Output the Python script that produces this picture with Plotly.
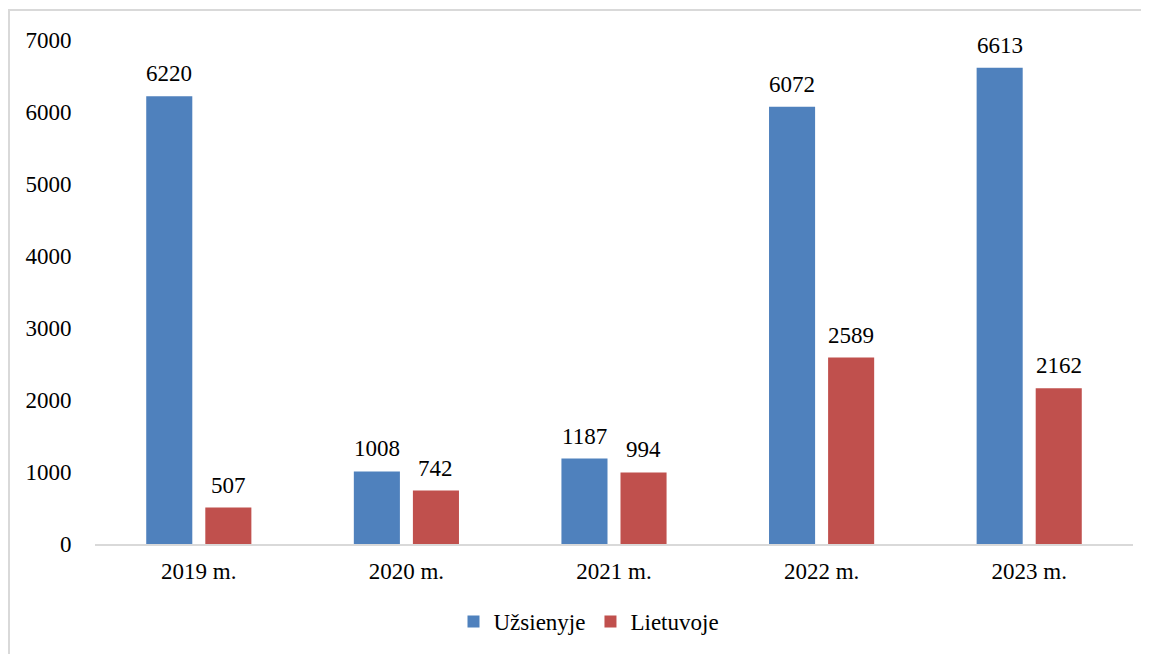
import plotly.graph_objects as go

categories = ["2019 m.", "2020 m.", "2021 m.", "2022 m.", "2023 m."]
uzsienyje = [6220, 1008, 1187, 6072, 6613]
lietuvoje = [507, 742, 994, 2589, 2162]
series_names = ["Užsienyje", "Lietuvoje"]
colors = ["#4F81BD", "#C0504D"]
y_ticks = [0, 1000, 2000, 3000, 4000, 5000, 6000, 7000]

FONT = "Liberation Serif, Times New Roman, serif"

W, H = 1149, 654
OFF = 8  # page body margin
L, R, T, B = 95 - OFF, 16 + OFF, 40 - OFF, 110 + OFF
pw, ph = W - L - R, H - T - B
slot_px = 59  # horizontal offset between the two bars of a group, in pixels

fig = go.Figure()
annotations = []
for i, (name, vals, col) in enumerate(zip(series_names, [uzsienyje, lietuvoje], colors)):
    fig.add_trace(go.Bar(
        x=categories, y=vals, name=name,
        marker=dict(color=col, line=dict(width=0)),
    ))
    shift = (i - 0.5) * slot_px
    for c, v in zip(categories, vals):
        annotations.append(dict(
            x=c, y=v, xref="x", yref="y", text=str(v), showarrow=False,
            xanchor="center", yanchor="bottom", xshift=shift, yshift=8,
            font=dict(family=FONT, size=23, color="black"),
        ))


def px(x_screen):
    return (x_screen - OFF - L) / pw


def py(y_screen):
    return (H - B - (y_screen - OFF)) / ph


fig.add_shape(type="rect", xref="paper", yref="paper",
              x0=px(9), x1=px(1200), y0=py(700), y1=py(10),
              line=dict(color="#D9D9D9", width=2), fillcolor="rgba(0,0,0,0)", layer="below")

fig.update_layout(
    width=W, height=H,
    margin=dict(l=L, r=R, t=T, b=B, autoexpand=False),
    plot_bgcolor="white", paper_bgcolor="white",
    barmode="group", bargap=0.431, bargroupgap=0.22,
    font=dict(family=FONT, size=23, color="black"),
    showlegend=True,
    annotations=annotations,
    legend=dict(orientation="h", x=px(589), xanchor="center", y=py(643), yanchor="bottom",
                font=dict(family=FONT, size=23, color="black"), itemwidth=30,
                traceorder="normal"),
    xaxis=dict(showgrid=False, showline=True, linecolor="#D9D9D9", linewidth=2,
               ticks="outside", ticklen=5, tickcolor="rgba(0,0,0,0)",
               tickfont=dict(family=FONT, size=23, color="black")),
    yaxis=dict(range=[0, 7000], tickvals=y_ticks, showgrid=False, showline=False,
               zeroline=False, ticks="outside", ticklen=18, tickcolor="rgba(0,0,0,0)",
               tickfont=dict(family=FONT, size=23, color="black")),
)

fig.write_html("out.html")
